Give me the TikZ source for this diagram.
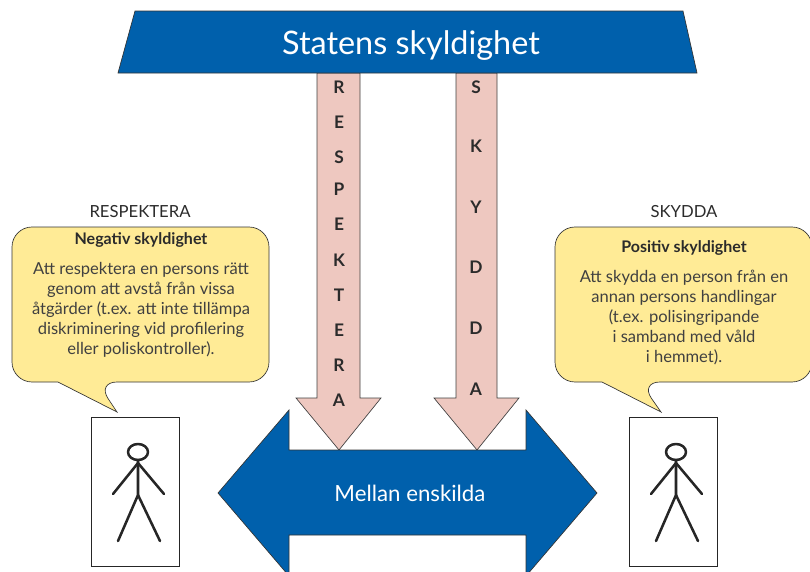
\documentclass[tikz,border=0pt]{standalone}
\usepackage{fontspec}
\setmainfont{Lato}
\definecolor{stateblue}{HTML}{0060AC}
\definecolor{arrowpink}{HTML}{EEC8C0}
\definecolor{bubbleyellow}{HTML}{FFEB96}
\definecolor{darktext}{HTML}{2B2B2B}
\tikzstyle{bigarrow}=[fill=stateblue,draw=black!80,line width=0.5pt]
\tikzstyle{downarrow}=[fill=arrowpink,draw=black!75,line width=0.5pt]
\tikzstyle{bubble}=[fill=bubbleyellow,draw=black!80,line width=0.5pt,rounded corners=15pt]
\tikzstyle{letter}=[font=\fontsize{13}{14}\selectfont\bfseries,text=darktext,inner sep=0pt]
\tikzstyle{bodytext}=[font=\fontsize{12.4}{15}\selectfont,text=darktext!90,align=center,inner sep=0pt]
\tikzstyle{headtext}=[font=\fontsize{12}{13}\selectfont\bfseries,text=darktext,inner sep=0pt]
\tikzstyle{toplabel}=[font=\fontsize{12.5}{14}\selectfont,text=darktext,inner sep=0pt]
\tikzstyle{person}=[line width=1.9pt,black!85,line cap=round,line join=round]

\begin{document}
\begin{tikzpicture}[x=0.75pt,y=-0.75pt]
\path[use as bounding box,clip] (0,0) rectangle (810,571);
% down arrows
\draw[downarrow] (317,73) -- (317,398) -- (296,398) -- (339,450) -- (381,398) -- (360,398) -- (360,73) -- cycle;
\draw[downarrow] (456,73) -- (456,398) -- (434,398) -- (477,450) -- (519,398) -- (497,398) -- (497,73) -- cycle;
\foreach \ltr/\ypos in {R/87,E/122,S/157,P/189,E/224,K/260,T/295,E/330,R/365,A/400}
  \node[letter] at (339,\ypos) {\ltr};
\foreach \ltr/\ypos in {S/87,K/146,Y/207,D/267,D/328,A/389}
  \node[letter] at (476,\ypos) {\ltr};
% top and bottom blue shapes
\draw[bigarrow] (135,11) -- (683,11) -- (697,73) -- (118,73) -- cycle;
\node[text=white,font=\fontsize{24.3}{28}\selectfont,inner sep=0pt] (Stat) at (411,46) {Statens skyldighet};
\draw[bigarrow] (218,493) -- (289,410) -- (289,450) -- (526,450) -- (526,410) -- (597,493) -- (526,576) -- (526,535) -- (289,535) -- (289,576) -- cycle;
\node[text=white,font=\fontsize{16.7}{18}\selectfont,inner sep=0pt] (Mellan) at (410,493) {Mellan enskilda};
% speech bubbles
\draw[bubble] (12,227) -- (269,227) -- (269,382) -- (97,382) [sharp corners] -- (117,412) -- (58,382) [rounded corners=15pt] -- (12,382) -- cycle;
\draw[bubble] (555,227) -- (812,227) -- (812,382) -- (640,382) [sharp corners] -- (661,412) -- (602,382) [rounded corners=15pt] -- (555,382) -- cycle;
\node[toplabel] (Resp) at (140,212) {RESPEKTERA};
\node[toplabel] (Skyd) at (684,212) {SKYDDA};
\node[headtext] (Neg) at (141,240) {Negativ skyldighet};
\node[headtext] (Pos) at (684,248) {Positiv skyldighet};
\node[bodytext,anchor=north] (NegText) at (141,262) {Att respektera en persons rätt\\genom att avstå från vissa\\åtgärder (t.ex. att inte tillämpa\\diskriminering vid profilering\\eller poliskontroller).};
\node[bodytext,anchor=north] (PosText) at (684,270) {Att skydda en person från en\\annan persons handlingar\\(t.ex. polisingripande\\i samband med våld\\i hemmet).};
% persons
\foreach \px in {0,538}{
  \begin{scope}[xshift=\px*0.75pt]
  \draw[line width=0.7pt,black!85] (91,417) rectangle (179,566);
  \draw[person] (138,452) ellipse (10 and 8);
  \draw[person] (138,460) -- (138,495) -- (118,541);
  \draw[person] (138,495) -- (160,541);
  \draw[person] (113,494) -- (138,463) -- (164,494);
  \end{scope}
}
\end{tikzpicture}
\end{document}
